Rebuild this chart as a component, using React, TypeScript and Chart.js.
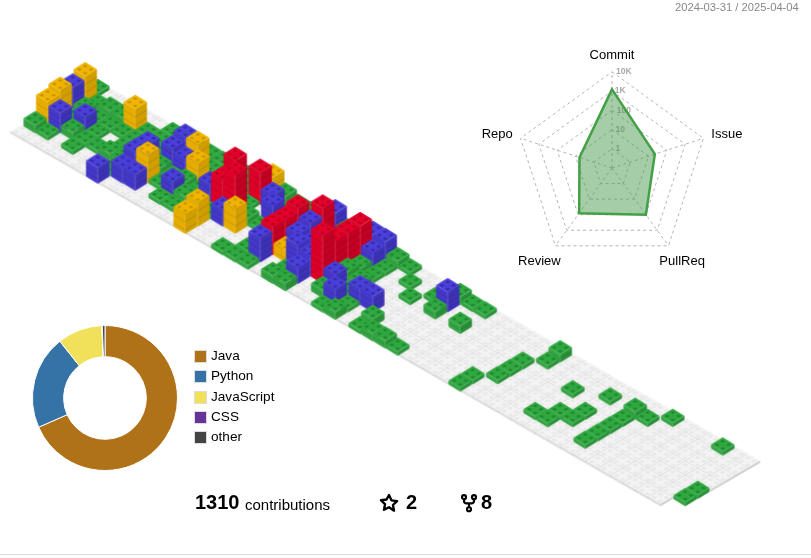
import React, { useEffect, useRef } from "react";
import { Chart, registerables } from "chart.js";

Chart.register(...registerables);

// ---- data ----
// one string per week, one character per weekday (Sunday first)
const weekLevels = [
  "1323310", "0111210", "0112100", "0111110", "0310100", "0111100", "1111112",
  "1112220", "1221320", "1321100", "1131210", "1111110", "1112110", "1144133",
  "3414200", "1201300", "1121001", "1111111", "1144421", "2422300", "1112211",
  "1111221", "2444400", "2211210", "1111121", "1000211", "0100200", "0010011",
  "0100001", "1210001", "1000001", "1010000", "0000000", "0000000", "0000000",
  "0000011", "0011100", "1100000", "0000000", "0000000", "0010010", "0000110",
  "0101100", "0000000", "0111110", "0100000", "1000000", "0000000", "0000000",
  "0000000", "1000000", "0000000", "000011",
];
const weekHeights = [
  "1767620", "0121510", "0214200", "0211110", "0610100", "0111200", "1111214",
  "1116640", "1652740", "1641100", "1152410", "1111210", "1115110", "11b8165",
  "581b400", "2402600", "1151001", "1111111", "1187761", "5865300", "2114612",
  "1111542", "5999c00", "5423420", "2112141", "1000412", "0100400", "0010021",
  "0100002", "2520002", "1000001", "1020000", "0000000", "0000000", "0000000",
  "0000011", "0011100", "2100000", "0000000", "0000000", "0010010", "0000110",
  "0101100", "0000000", "0211110", "0100000", "1000000", "0000000", "0000000",
  "0000000", "1000000", "0000000", "000011",
];
const axisLabels = ["Commit", "Issue", "PullReq", "Review", "Repo"];
const axisCounts = [1230, 22, 100, 80, 6];
const ringLabels = ["", "1", "10", "100", "1K", "10K"];
const languages = ["Java", "Python", "JavaScript", "CSS", "other"];
const languageShares = [68.4, 20.9, 10, 0.1, 0.6];
const languageColors = ["#b07219", "#3572A5", "#f1e05a", "#663399", "#444444"];

// ---- brick look ----
const palette = [
  { top: "#f3f3f3", left: "#e2e2e2", right: "#cfcfcf", stud: "#e6e6e6", hole: "#ededed", seg: 0 },
  { top: "#2fa83f", left: "#35a544", right: "#2a9139", stud: "#258f35", hole: "#1f7d2e", seg: 4 },
  { top: "#4a3fd8", left: "#4438c9", right: "#3d32b6", stud: "#3b30b8", hole: "#3126a0", seg: 5.5 },
  { top: "#f0b400", left: "#e6ad00", right: "#d09e00", stud: "#d39f00", hole: "#b88a00", seg: 8 },
  { top: "#e4002b", left: "#dc0029", right: "#c20024", stud: "#c40024", hole: "#a8001e", seg: 7 },
];
const UNIT = 4;
const cache: Record<string, HTMLCanvasElement> = {};

function brick(level: number, h: number) {
  const key = level + "-" + h;
  if (cache[key]) return cache[key];
  const p = palette[level];
  const hw = level === 0 ? 12.4 : 11.7;
  const hh = level === 0 ? 7.2 : 7.3;
  const wall = level === 0 ? 2 : h * UNIT;
  const c = document.createElement("canvas");
  c.width = 28;
  c.height = 2 * (wall + 12);
  const g = c.getContext("2d")!;
  const cx = c.width / 2;
  const cy = c.height / 2;
  const ty = cy - wall;
  g.fillStyle = p.left;
  g.beginPath();
  g.moveTo(cx - hw, ty); g.lineTo(cx, ty + hh); g.lineTo(cx, cy + hh); g.lineTo(cx - hw, cy);
  g.closePath(); g.fill();
  g.fillStyle = p.right;
  g.beginPath();
  g.moveTo(cx + hw, ty); g.lineTo(cx, ty + hh); g.lineTo(cx, cy + hh); g.lineTo(cx + hw, cy);
  g.closePath(); g.fill();
  if (p.seg > 0) {
    g.strokeStyle = "rgba(0,0,0,0.2)";
    g.lineWidth = 0.6;
    for (let t = p.seg; t < wall - 1; t += p.seg) {
      g.beginPath();
      g.moveTo(cx - hw, ty + t); g.lineTo(cx, ty + hh + t); g.lineTo(cx + hw, ty + t);
      g.stroke();
    }
    g.strokeStyle = "rgba(255,255,255,0.3)";
    g.beginPath();
    g.moveTo(cx, ty + hh); g.lineTo(cx, cy + hh);
    g.stroke();
  }
  g.fillStyle = p.top;
  g.beginPath();
  g.moveTo(cx, ty - hh); g.lineTo(cx + hw, ty); g.lineTo(cx, ty + hh); g.lineTo(cx - hw, ty);
  g.closePath(); g.fill();
  if (level === 0) {
    g.strokeStyle = "#c6c6c6";
    g.lineWidth = 0.6;
    g.beginPath();
    g.moveTo(cx - hw, ty); g.lineTo(cx, ty + hh); g.lineTo(cx + hw, ty);
    g.stroke();
  }
  const spots = [[0, -hh / 2], [hw / 2, 0], [-hw / 2, 0], [0, hh / 2]];
  for (const [dx, dy] of spots) {
    g.fillStyle = p.stud;
    g.beginPath();
    g.ellipse(cx + dx, ty + dy + 0.3, 2.2, 1.25, 0, 0, Math.PI * 2);
    g.fill();
    g.fillStyle = p.hole;
    g.beginPath();
    g.ellipse(cx + dx, ty + dy + 0.2, 1, 0.6, 0, 0, Math.PI * 2);
    g.fill();
  }
  cache[key] = c;
  return c;
}

function cellPoints() {
  const pts: any[] = [];
  weekLevels.forEach((days, w) => {
    days.split("").forEach((ch, d) => {
      const h = parseInt(weekHeights[w][d], 16);
      const level = Number(ch);
      // base plates first, then the bricks from back to front
      pts.push({ x: w - d, y: 7.17 * w + 7.25 * d, level, h, order: (level === 0 ? 0 : 100) + w + d });
    });
  });
  return pts.sort((a, b) => a.order - b.order);
}

// Nudges the radar's axis names to where the reference has them.
const labelNudge = {
  id: "labelNudge",
  beforeDraw(chart: any) {
    const items = chart.scales.r._pointLabelItems;
    if (!items || chart.$nudged) return;
    chart.$nudged = true;
    const nudges = [[0, -0.5], [0, 6.5], [-14, 1.5], [10, 1], [0, 6.5]];
    items.forEach((it: any, i: number) => {
      it.x += nudges[i][0];
      it.y += nudges[i][1];
    });
  },
};

const FONT = "'Liberation Sans', Arial, sans-serif";

export default function App() {
  const isoRef = useRef<HTMLCanvasElement>(null);
  const radarRef = useRef<HTMLCanvasElement>(null);
  const donutRef = useRef<HTMLCanvasElement>(null);

  useEffect(() => {
    Chart.defaults.font.family = FONT;
    document.body.style.margin = "0";
    const iso = new Chart(isoRef.current!, {
      type: "scatter",
      data: {
        datasets: [
          {
            data: cellPoints(),
            pointStyle: (ctx: any) => brick(ctx.raw.level, ctx.raw.h),
            pointRadius: 5,
          } as any,
        ],
      },
      options: {
        animation: false,
        responsive: false,
        events: [],
        layout: { padding: 0, autoPadding: false },
        plugins: { legend: { display: false }, tooltip: { enabled: false } },
        scales: {
          x: { type: "linear", display: false, min: -97.7 / 12.5, max: (811 - 97.7) / 12.5 },
          y: { type: "linear", display: false, reverse: true, min: -90, max: 558 - 90 },
        },
      },
    });
    const radar = new Chart(radarRef.current!, {
      type: "radar",
      plugins: [labelNudge],
      data: {
        labels: axisLabels,
        datasets: [
          {
            data: axisCounts.map((v) => 1 + Math.log10(v)),
            borderColor: "#43a047",
            borderWidth: 2.5,
            backgroundColor: "rgba(67,150,71,0.48)",
            pointRadius: 0,
            fill: true,
          },
        ],
      },
      options: {
        animation: false,
        responsive: false,
        events: [],
        plugins: { legend: { display: false }, tooltip: { enabled: false } },
        scales: {
          r: {
            min: 0,
            max: 5,
            angleLines: { color: "#b5b5b5", borderDash: [3, 3], lineWidth: 1 } as any,
            grid: { color: "#b5b5b5", borderDash: [3, 3], lineWidth: 1 } as any,
            border: { dash: [3, 3] } as any,
            pointLabels: { font: { size: 13, family: FONT }, color: "#000", padding: 2 },
            ticks: {
              stepSize: 1,
              showLabelBackdrop: false,
              color: "#a8a8a8",
              font: { size: 8.5, weight: "bold", family: FONT },
              callback: (v: any) => {
                const t = ringLabels[Number(v)];
                return " ".repeat(Math.round(t.length * 2.2) + 3) + t;
              },
            },
          },
        },
      },
    });
    const donut = new Chart(donutRef.current!, {
      type: "doughnut",
      data: {
        labels: languages,
        datasets: [
          {
            data: languageShares,
            backgroundColor: languageColors,
            borderColor: "#ffffff",
            borderWidth: 1,
          },
        ],
      },
      options: {
        animation: false,
        responsive: false,
        events: [],
        cutout: "57%",
        layout: { padding: 0 },
        plugins: { tooltip: { enabled: false }, legend: { display: false } },
      },
    });
    return () => {
      iso.destroy();
      radar.destroy();
      donut.destroy();
    };
  }, []);

  const abs = (left: number, top: number): React.CSSProperties => ({
    position: "absolute",
    left,
    top,
    fontFamily: FONT,
    whiteSpace: "nowrap",
    color: "#000",
  });

  return (
    <div style={{ position: "absolute", left: 0, top: 0, width: 811, height: 558, overflow: "hidden", background: "#fff" }}>
      <canvas ref={isoRef} width={811} height={558} style={{ position: "absolute", left: 0, top: 0 }} />
      <canvas ref={radarRef} width={290} height={240} style={{ position: "absolute", left: 467, top: 40 }} />
      <canvas ref={donutRef} width={146} height={146} style={{ position: "absolute", left: 32, top: 325 }} />
      {languages.map((name, i) => (
        <div key={name}>
          <div
            style={{
              position: "absolute",
              left: 194,
              top: 350 + i * 20.35,
              width: 13,
              height: 13,
              background: languageColors[i],
              border: "0.5px solid #ddd",
              boxSizing: "border-box",
            }}
          />
          <div style={{ ...abs(211, 348 + i * 20.35), fontSize: 13.6, lineHeight: "16px" }}>{name}</div>
        </div>
      ))}
      <div style={{ ...abs(675, 1), fontSize: 11.2, color: "#888" }}>2024-03-31 / 2025-04-04</div>
      <div style={{ ...abs(195, 491), fontSize: 20, fontWeight: "bold" }}>1310</div>
      <div style={{ ...abs(245, 496), fontSize: 15 }}>contributions</div>
      <svg style={{ position: "absolute", left: 379, top: 493 }} width="20" height="20" viewBox="0 0 24 24" fill="none" stroke="#000" strokeWidth="2.8" strokeLinejoin="round">
        <path d="M12 2.5l2.95 6.3 6.8.9-5 4.7 1.3 6.8L12 17l-6.05 3.2 1.3-6.8-5-4.7 6.8-.9z" />
      </svg>
      <div style={{ ...abs(406, 491), fontSize: 20, fontWeight: "bold" }}>2</div>
      <svg style={{ position: "absolute", left: 459, top: 493 }} width="20" height="20" viewBox="0 0 24 24" fill="none" stroke="#000" strokeWidth="2.6">
        <circle cx="6" cy="5" r="2.4" />
        <circle cx="18" cy="5" r="2.4" />
        <circle cx="12" cy="19.5" r="2.4" />
        <path d="M6 7.5v2a3 3 0 003 3h6a3 3 0 003-3v-2M12 12.5v4.5" />
      </svg>
      <div style={{ ...abs(481, 491), fontSize: 20, fontWeight: "bold" }}>8</div>
      <div style={{ position: "absolute", left: 0, top: 554, width: 811, height: 1, background: "#ddd" }} />
    </div>
  );
}
